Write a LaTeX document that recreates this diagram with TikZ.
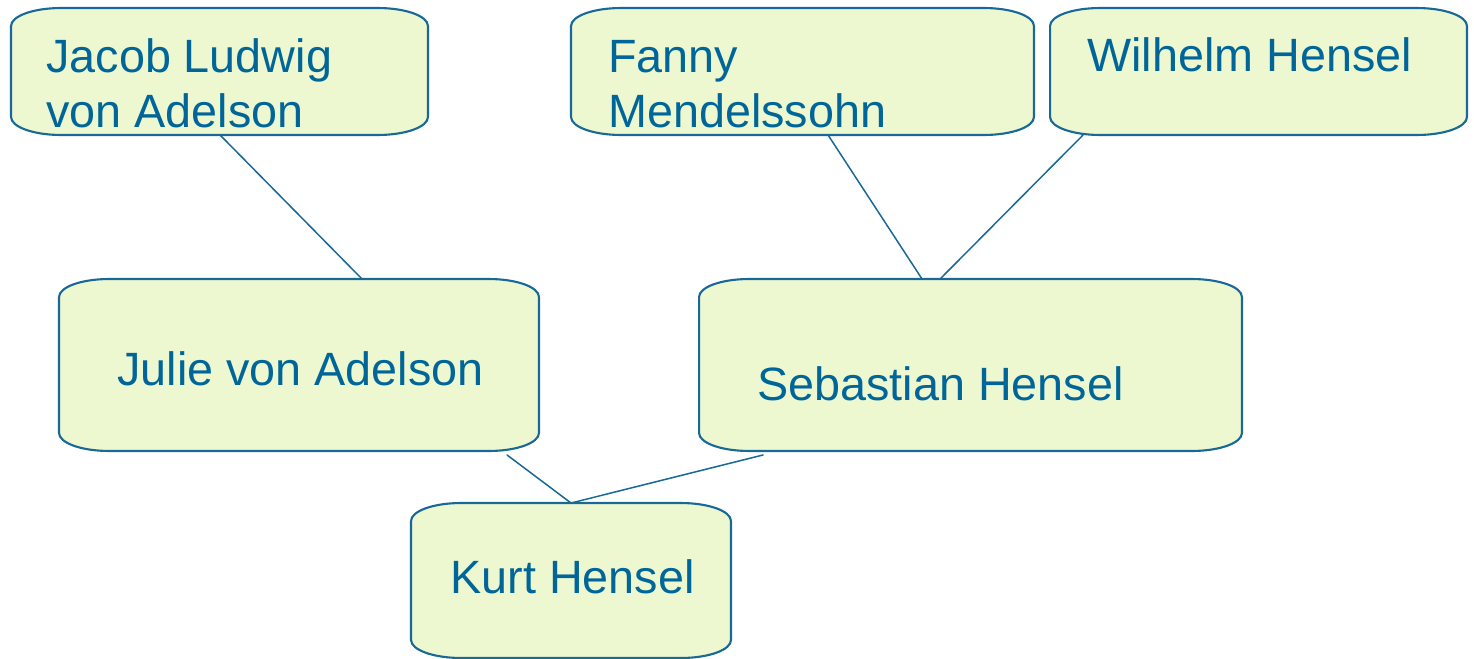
\documentclass[tikz,border=0pt]{standalone}
\usepackage{fontspec}
\setmainfont{Liberation Sans}
\usepackage{tikz}
\usepackage{xcolor}
\usetikzlibrary{calc}

\definecolor{boxfill}{RGB}{237,248,208}
\definecolor{boxline}{RGB}{24,104,152}
\definecolor{nametext}{RGB}{0,102,153}

\tikzset{
  famnode/.style={inner sep=0, outer sep=0},
  frame/.style={draw=boxline, fill=boxfill, line width=1.2pt},
  link/.style={draw=boxline, line width=0.85pt},
  who/.style={text=nametext, font=\fontsize{26.6}{31.3}\selectfont,
    anchor=base west, inner sep=0, align=left}
}

\begin{document}
\begin{tikzpicture}[x=0.02cm, y=-0.02cm, line join = round, line cap = round]
        \useasboundingbox (0,0) rectangle (1474,659);

        \node[famnode, minimum width=8.34cm, minimum height=2.54cm] (jacob) at (219.5,71.5) {};
        \node[famnode, minimum width=9.26cm, minimum height=2.54cm] (fanny) at (802.5,71.5) {};
        \node[famnode, minimum width=8.34cm, minimum height=2.54cm] (wilhelm) at (1258.5,71.5) {};
        \node[famnode, minimum width=9.6cm, minimum height=3.44cm] (julie) at (299,365) {};
        \node[famnode, minimum width=10.86cm, minimum height=3.44cm] (sebastian) at (970.5,365) {};
        \node[famnode, minimum width=6.4cm, minimum height=3.1cm] (kurt) at (571,580.5) {};

        % boxes with flat rounded corners
        \foreach \n in {jacob,fanny,wilhelm,julie,sebastian,kurt}
        \draw[frame] ([xshift=1cm]\n.north west) -- ([xshift=-1cm]\n.north east)
            arc[start angle=90, end angle=0, x radius=1cm, y radius=0.36cm]
            -- ([yshift=0.36cm]\n.south east)
            arc[start angle=0, end angle=-90, x radius=1cm, y radius=0.36cm]
            -- ([xshift=1cm]\n.south west)
            arc[start angle=270, end angle=180, x radius=1cm, y radius=0.36cm]
            -- ([yshift=-0.36cm]\n.north west)
            arc[start angle=180, end angle=90, x radius=1cm, y radius=0.36cm]
            -- cycle;

        \draw[link] ($(jacob.south west)+(209,0)$) -- ($(julie.north west)+(303,0)$);
        \draw[link] ($(fanny.south west)+(257,0)$) -- ($(sebastian.north west)+(223,0)$);
        \draw[link] ($(wilhelm.south west)+(33,0)$) -- ($(sebastian.north west)+(241,0)$);
        \draw[link] ($(julie.south west)+(448,4)$) -- (kurt.north);
        \draw[link] ($(sebastian.south west)+(64,4)$) -- (kurt.north);

        \node[who] (jacob-t) at (46,127) {Jacob Ludwig\\von Adelson};
        \node[who] (fanny-t) at (608,127) {Fanny\\Mendelssohn};
        \node[who] (wilhelm-t) at (1087,71) {Wilhelm Hensel};
        \node[who] (julie-t) at (117,385) {Julie von Adelson};
        \node[who] (sebastian-t) at (757,400) {Sebastian Hensel};
        \node[who] (kurt-t) at (450,593) {Kurt Hensel};
\end{tikzpicture}
\end{document}
